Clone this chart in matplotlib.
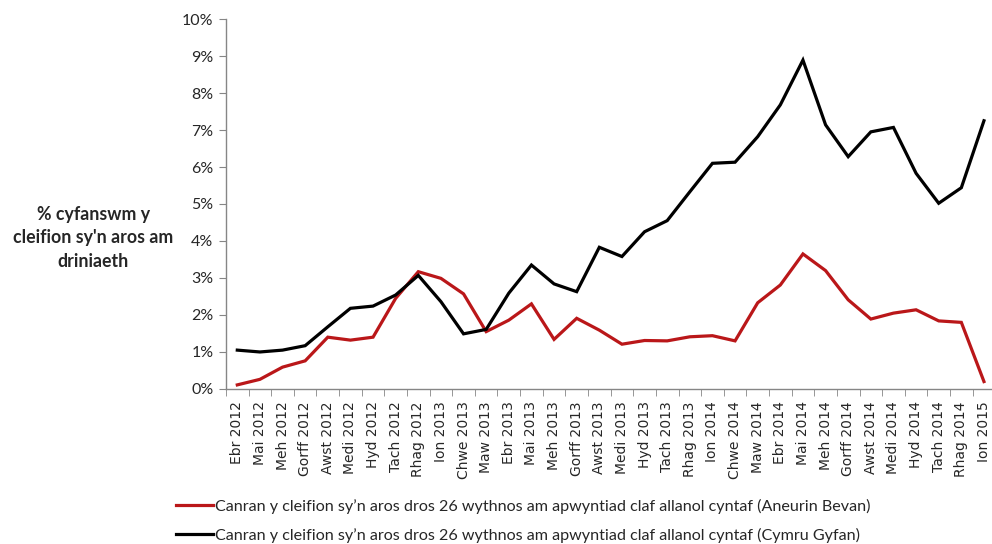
import matplotlib

matplotlib.use("Agg")
import matplotlib.pyplot as plt
import numpy as np

MONTHS = [
    "Ebr 2012", "Mai 2012", "Meh 2012", "Gorff 2012", "Awst 2012", "Medi 2012",
    "Hyd 2012", "Tach 2012", "Rhag 2012", "Ion 2013", "Chwe 2013", "Maw 2013",
    "Ebr 2013", "Mai 2013", "Meh 2013", "Gorff 2013", "Awst 2013", "Medi 2013",
    "Hyd 2013", "Tach 2013", "Rhag 2013", "Ion 2014", "Chwe 2014", "Maw 2014",
    "Ebr 2014", "Mai 2014", "Meh 2014", "Gorff 2014", "Awst 2014", "Medi 2014",
    "Hyd 2014", "Tach 2014", "Rhag 2014", "Ion 2015",
]

# % of patients waiting over 26 weeks for a first outpatient appointment
ANEURIN_BEVAN = [
    0.11, 0.26, 0.59, 0.76, 1.40, 1.32, 1.40, 2.45, 3.17, 2.99, 2.57, 1.55,
    1.86, 2.30, 1.34, 1.91, 1.59, 1.21, 1.31, 1.30, 1.41, 1.44, 1.30, 2.33,
    2.81, 3.65, 3.20, 2.41, 1.89, 2.05, 2.14, 1.84, 1.80, 0.20,
]
CYMRU_GYFAN = [
    1.05, 1.00, 1.05, 1.17, 1.68, 2.18, 2.24, 2.54, 3.07, 2.36, 1.49, 1.61,
    2.59, 3.35, 2.84, 2.63, 3.83, 3.58, 4.25, 4.55, 5.33, 6.10, 6.13, 6.82,
    7.68, 8.89, 7.14, 6.28, 6.95, 7.07, 5.83, 5.02, 5.44, 7.25,
]

LABEL_AB = "Canran y cleifion sy\u2019n aros dros 26 wythnos am apwyntiad claf allanol cyntaf (Aneurin Bevan)"
LABEL_CG = "Canran y cleifion sy\u2019n aros dros 26 wythnos am apwyntiad claf allanol cyntaf (Cymru Gyfan)"

RED = "#BA1719"
AXIS = "#868686"
TEXT = "#262626"

fig = plt.figure(figsize=(9.92, 5.44), dpi=100)
fig.patch.set_facecolor("white")
ax = fig.add_axes([0.2278, 0.285, 0.7755, 0.68])

x = np.arange(len(MONTHS))
l1, = ax.plot(x, ANEURIN_BEVAN, color=RED, lw=2.3, solid_joinstyle="miter")
l2, = ax.plot(x, CYMRU_GYFAN, color="black", lw=2.3, solid_joinstyle="miter")

ax.set_xlim(-0.5, len(MONTHS) - 0.5)
ax.set_ylim(0, 10)

ax.set_yticks(range(0, 11))
ax.set_yticklabels([f"{v}%" for v in range(0, 11)], fontfamily="Lato", fontsize=11.5, color=TEXT)
ax.set_xticks(x)
ax.set_xticklabels(MONTHS, rotation=90, fontfamily=["Liberation Sans Narrow", "DejaVu Sans"],
                   fontsize=10, color=TEXT)
ax.set_xticks(np.arange(-0.5, len(MONTHS)), minor=True)
ax.tick_params(axis="x", which="major", length=0, pad=9)
ax.tick_params(axis="x", which="minor", length=5, color=AXIS)
ax.tick_params(axis="y", length=5, color=AXIS, pad=4)

for side in ("top", "right"):
    ax.spines[side].set_visible(False)
for side in ("left", "bottom"):
    ax.spines[side].set_color(AXIS)
    ax.spines[side].set_linewidth(1)

fig.text(0.094, 0.5625, "% cyfanswm y\ncleifion sy'n aros am\ndriniaeth", ha="center", va="center",
         fontfamily="Lato", fontweight="bold", fontsize=12.8, color=TEXT, linespacing=1.45)

fig.legend([l1, l2], [LABEL_AB, LABEL_CG], loc="upper left", bbox_to_anchor=(0.171, 0.095),
           frameon=False, handlelength=2.3, handletextpad=0.1, labelspacing=0.85,
           prop={"family": "Lato", "size": 11.6}, labelcolor=TEXT, borderaxespad=0)

fig.savefig("out.png", dpi=100, facecolor="white")
